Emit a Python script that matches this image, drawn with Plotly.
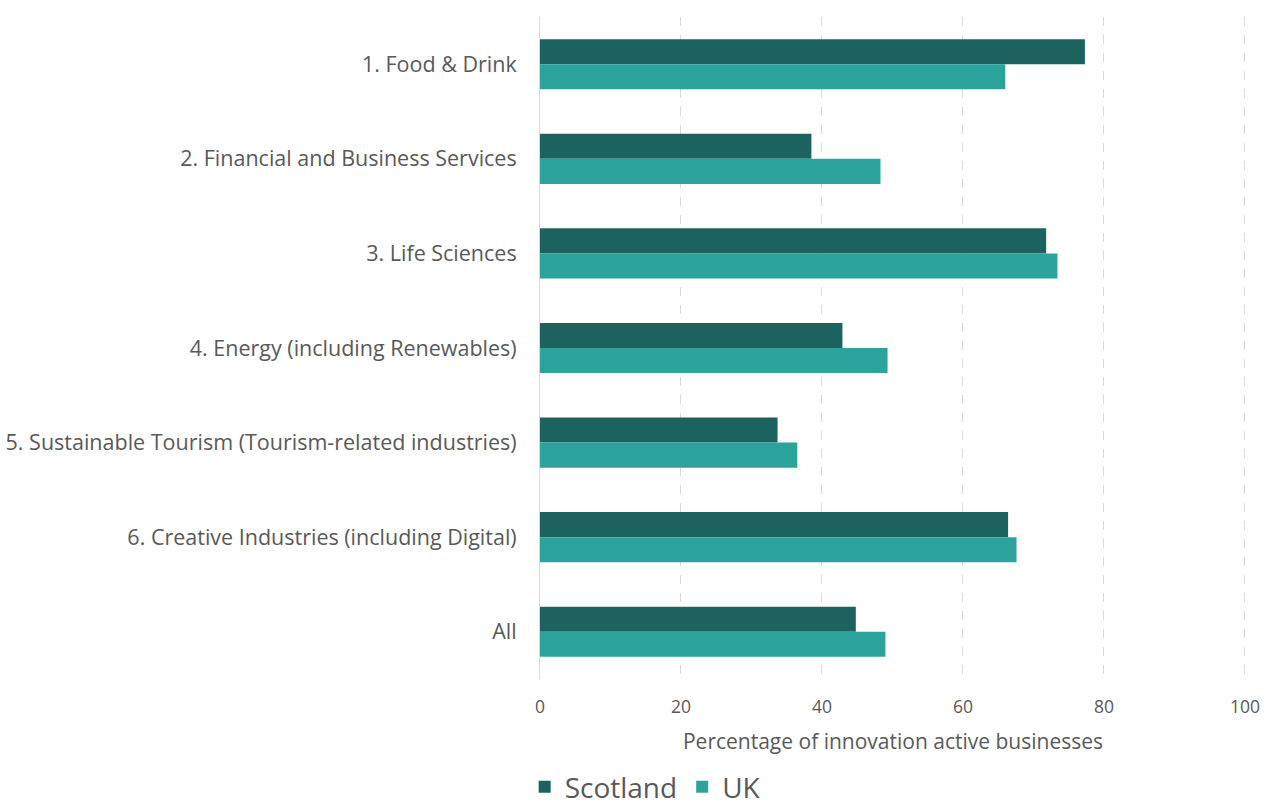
import plotly.graph_objects as go

categories = [
    "1. Food & Drink",
    "2. Financial and Business Services",
    "3. Life Sciences",
    "4. Energy (including Renewables)",
    "5. Sustainable Tourism (Tourism-related industries)",
    "6. Creative Industries (including Digital)",
    "All",
]
scotland = [77.3, 38.5, 71.8, 42.9, 33.7, 66.4, 44.8]
uk = [66.0, 48.3, 73.4, 49.3, 36.5, 67.6, 49.0]
x_ticks = [0, 20, 40, 60, 80, 100]

FONT = "'Open Sans', sans-serif"
GREY = "#595959"

fig = go.Figure()
fig.add_trace(go.Bar(y=categories, x=scotland, name="Scotland", orientation="h",
                     marker=dict(color="#1c6360", line=dict(width=0))))
fig.add_trace(go.Bar(y=categories, x=uk, name="UK", orientation="h",
                     marker=dict(color="#2ca39a", line=dict(width=0))))

fig.update_layout(
    width=1265, height=812,
    margin=dict(l=540, r=19, t=17, b=133, autoexpand=False),
    paper_bgcolor="white", plot_bgcolor="white",
    barmode="group", bargap=0.47, bargroupgap=0,
    font=dict(family=FONT, color=GREY, size=17),
    legend=dict(orientation="h", xref="container", yref="container",
                x=0.51, xanchor="center", y=-0.014, yanchor="bottom",
                font=dict(size=28, color=GREY), itemwidth=30,
                traceorder="normal"),
    xaxis=dict(range=[0, 100.15], tickvals=x_ticks, showgrid=True,
               gridcolor="#d9d9d9", griddash="dash", gridwidth=1,
               zeroline=False, showline=False, ticks="", automargin=False,
               tickfont=dict(size=17.5, color=GREY), ticklabelstandoff=15,
               title=dict(text="Percentage of innovation active businesses",
                          font=dict(size=21, color=GREY), standoff=17)),
    yaxis=dict(autorange="reversed", showline=True, linecolor="#d9d9d9",
               linewidth=1, ticks="", showgrid=False, automargin=False,
               tickfont=dict(size=21.5, color=GREY), ticklabelstandoff=18),
)

fig.write_html("out.html")
